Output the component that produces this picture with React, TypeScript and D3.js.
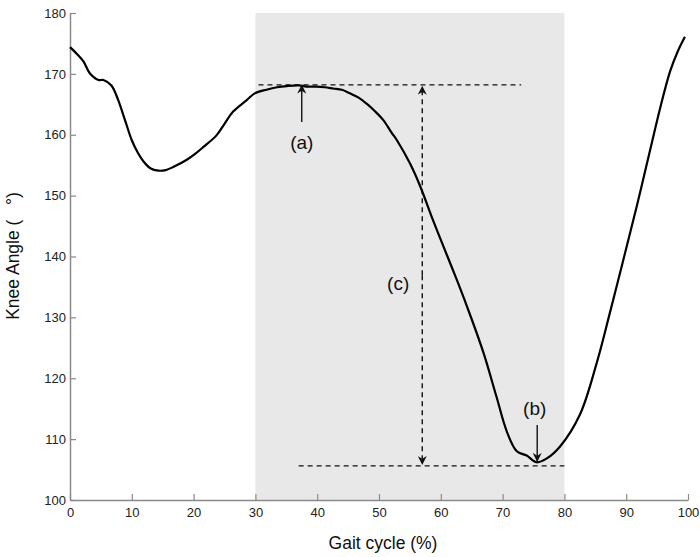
import React, { useEffect, useRef } from 'react';
import * as d3 from 'd3';

// gait cycle (%) and knee angle (deg)
const gaitPct = [0, 1.2, 2.2, 3.2, 4.6, 5.4, 6.7, 7.8, 8.9, 10, 11, 11.9, 13, 14.3, 15.5, 16.7, 18.9, 20.3, 21.6, 23.7, 25, 26.4, 28.6, 29.9, 31.8, 33.5, 35.1, 37, 38.5, 39.9, 41.2, 42.6, 44, 45.3, 46.7, 48, 49.3, 50.7, 52, 52.9, 55, 56.6, 58.8, 61, 62.5, 64.2, 66.9, 69, 70.7, 72.3, 73.9, 75.5, 77.1, 79.3, 82.5, 85.2, 87.4, 89.5, 91.7, 93.9, 95.5, 97.1, 98.3, 99.5];
const kneeAngle = [174.4, 173.2, 172.0, 170.1, 169.0, 169.0, 168.1, 165.7, 162.4, 159.1, 157.0, 155.6, 154.5, 154.1, 154.2, 154.7, 155.9, 156.9, 158.0, 159.9, 161.8, 163.8, 165.7, 166.8, 167.4, 167.8, 168.0, 168.1, 167.9, 167.9, 167.8, 167.6, 167.4, 166.8, 166.1, 165.1, 163.9, 162.4, 160.4, 159.1, 155.3, 151.7, 145.8, 140.2, 136.4, 131.9, 124.2, 117.0, 111.2, 108.0, 107.3, 106.2, 106.8, 108.8, 114.0, 122.4, 130.9, 139.3, 148.2, 157.6, 164.4, 170.4, 173.6, 176.1];

const xTicks = [0, 10, 20, 30, 40, 50, 60, 70, 80, 90, 100];
const yTicks = [100, 110, 120, 130, 140, 150, 160, 170, 180];

const shadeRange = [30, 80];
const topLevel = 168.2;
const bottomLevel = 105.6;

const App = () => {
  const svgRef = useRef<SVGSVGElement>(null);

  useEffect(() => {
    const width = 700;
    const height = 557;
    const svg = d3.select(svgRef.current);
    svg.selectAll('*').remove();
    svg.attr('width', width).attr('height', height);

    const x = d3.scaleLinear().domain([0, 100]).range([70, 688]);
    const y = d3.scaleLinear().domain([100, 180]).range([500, 13]);
    const font = 'Arial, "Liberation Sans", sans-serif';
    const axisColor = '#8a8a8a';

    // arrow marker
    const defs = svg.append('defs');
    defs.append('marker')
      .attr('id', 'arr')
      .attr('viewBox', '0 0 10 10')
      .attr('refX', 9)
      .attr('refY', 5)
      .attr('markerWidth', 9)
      .attr('markerHeight', 9)
      .attr('markerUnits', 'userSpaceOnUse')
      .attr('orient', 'auto')
      .append('path')
      .attr('d', 'M0,0 L10,5 L0,10 L3,5 Z')
      .attr('fill', '#111');

    // shaded phase
    svg.append('rect')
      .attr('x', x(shadeRange[0]))
      .attr('y', y(180))
      .attr('width', x(shadeRange[1]) - x(shadeRange[0]))
      .attr('height', y(100) - y(180))
      .attr('fill', '#e8e8e8');

    // axes
    const xAxis = svg.append('g')
      .attr('transform', `translate(0,${y(100)})`)
      .call(d3.axisBottom(x).tickValues(xTicks).tickSizeInner(-6).tickSizeOuter(0).tickPadding(8));
    const yAxis = svg.append('g')
      .attr('transform', `translate(${x(0)},0)`)
      .call(d3.axisLeft(y).tickValues(yTicks).tickSizeInner(-6).tickSizeOuter(0).tickPadding(4));
    [xAxis, yAxis].forEach(g => {
      g.select('.domain').attr('stroke', axisColor).attr('stroke-width', 1.5);
      g.selectAll('.tick line').attr('stroke', axisColor).attr('stroke-width', 1.2);
      g.selectAll('.tick text')
        .attr('fill', '#222')
        .attr('font-family', font)
        .attr('font-size', 13);
    });

    // dashed reference lines
    const dash = '5,4';
    svg.append('line')
      .attr('x1', x(30.5)).attr('x2', x(73))
      .attr('y1', y(topLevel)).attr('y2', y(topLevel))
      .attr('stroke', '#111').attr('stroke-width', 1.4).attr('stroke-dasharray', dash);
    svg.append('line')
      .attr('x1', x(37)).attr('x2', x(80))
      .attr('y1', y(bottomLevel)).attr('y2', y(bottomLevel))
      .attr('stroke', '#111').attr('stroke-width', 1.4).attr('stroke-dasharray', dash);

    // double arrow (c)
    const cx = 57;
    const cMid = (topLevel + bottomLevel) / 2;
    [[cMid, topLevel - 0.3], [cMid, bottomLevel + 0.3]].forEach(([a, b]) => {
      svg.append('line')
        .attr('x1', x(cx)).attr('x2', x(cx))
        .attr('y1', y(a)).attr('y2', y(b))
        .attr('stroke', '#111').attr('stroke-width', 1.4).attr('stroke-dasharray', dash)
        .attr('marker-end', 'url(#arr)');
    });

    // curve
    const pts = gaitPct.map((g, i) => [g, kneeAngle[i]] as [number, number]);
    svg.append('path')
      .datum(pts)
      .attr('fill', 'none')
      .attr('stroke', '#000')
      .attr('stroke-width', 2.2)
      .attr('stroke-linejoin', 'round')
      .attr('d', d3.line<[number, number]>().x(d => x(d[0])).y(d => y(d[1])).curve(d3.curveCatmullRom.alpha(0.5)));

    // annotation arrows
    svg.append('line')
      .attr('x1', x(37.5)).attr('x2', x(37.5))
      .attr('y1', y(162.1)).attr('y2', y(168.1))
      .attr('stroke', '#111').attr('stroke-width', 1.4)
      .attr('marker-end', 'url(#arr)');
    svg.append('line')
      .attr('x1', x(75.6)).attr('x2', x(75.6))
      .attr('y1', y(112.3)).attr('y2', y(106.4))
      .attr('stroke', '#111').attr('stroke-width', 1.4)
      .attr('marker-end', 'url(#arr)');

    const labels = [
      { t: '(a)', gx: 37.5, v: 158.8 },
      { t: '(b)', gx: 75.2, v: 115.1 },
      { t: '(c)', gx: 53.1, v: 135.6 },
    ];
    svg.selectAll('.lbl')
      .data(labels)
      .enter()
      .append('text')
      .attr('x', d => x(d.gx))
      .attr('y', d => y(d.v))
      .attr('dy', '0.35em')
      .attr('text-anchor', 'middle')
      .attr('font-family', font)
      .attr('font-size', 19)
      .attr('fill', '#111')
      .text(d => d.t);

    // axis titles
    svg.append('text')
      .attr('x', 383)
      .attr('y', 549)
      .attr('text-anchor', 'middle')
      .attr('font-family', font)
      .attr('font-size', 17.5)
      .attr('fill', '#111')
      .text('Gait cycle (%)');
    svg.append('text')
      .attr('transform', 'rotate(-90)')
      .attr('x', -256)
      .attr('y', 19)
      .attr('text-anchor', 'middle')
      .attr('font-family', font)
      .attr('font-size', 17.5)
      .attr('fill', '#111')
      .text('Knee Angle (\u00a0\u00a0\u00a0°)');
  }, []);

  return <svg ref={svgRef} style={{ position: 'absolute', left: 0, top: 0, background: '#fff' }}></svg>;
};

export default App;
